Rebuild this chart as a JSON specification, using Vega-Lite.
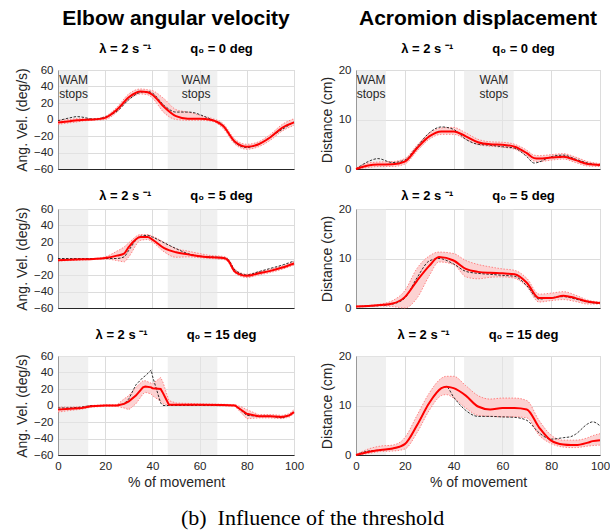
{
  "$schema": "https://vega.github.io/schema/vega-lite/v6.json",
  "background": "white",
  "padding": {"left": 14, "right": 2, "top": 7, "bottom": 2},
  "config": {
    "font": "Liberation Sans",
    "view": {"stroke": "#c8c8c8"},
    "axis": {"grid": true, "gridColor": "#dcdcdc", "domainColor": "#262626", "ticks": false, "labelPadding": 5, "labelOverlap": false, "labelFlush": false,
      "labelFont": "Liberation Sans", "labelFontSize": 11.5, "labelColor": "#262626",
      "titleFont": "Liberation Sans", "titleFontSize": 14, "titleFontWeight": "normal", "titleColor": "#262626"},
    "title": {"font": "Liberation Sans", "fontSize": 21, "fontWeight": "bold", "color": "#000000", "frame": "group",
      "subtitleFont": "Liberation Sans", "subtitleFontSize": 13, "subtitleFontWeight": "bold", "subtitleColor": "#000000",
      "subtitlePadding": 14, "offset": 4}
  },
  "title": {"text": "(b)\u2002Influence of the threshold", "orient": "bottom", "anchor": "middle", "frame": "bounds", "font": "Liberation Serif", "fontSize": 22, "fontWeight": "normal", "offset": 18},
  "columns": 2,
  "align": "each",
  "spacing": {"row": 14, "column": 14},
  "datasets": {
    "shL": [{"s": 0, "e": 12.8}, {"s": 46.5, "e": 67.5}],
    "shR": [{"s": 0, "e": 12.3}, {"s": 44.3, "e": 64.6}],
    "p1": [
      {"x": 0, "m": -3.5, "lo": -6, "hi": -1, "r": -1.5},
      {"x": 5, "m": -2, "lo": -4, "hi": 0, "r": 2},
      {"x": 8, "m": -1, "lo": -3, "hi": 1, "r": 3.5},
      {"x": 10, "m": -0.5, "lo": -2, "hi": 1, "r": 3},
      {"x": 15, "m": 0, "lo": -1, "hi": 1, "r": 0.5},
      {"x": 20, "m": 2, "lo": 0, "hi": 4, "r": 3},
      {"x": 25, "m": 12, "lo": 9, "hi": 15, "r": 10},
      {"x": 30, "m": 27, "lo": 24, "hi": 31, "r": 24},
      {"x": 35, "m": 34, "lo": 31, "hi": 37, "r": 33},
      {"x": 38, "m": 33, "lo": 30, "hi": 36, "r": 34},
      {"x": 40, "m": 30, "lo": 26, "hi": 35, "r": 32},
      {"x": 45, "m": 15, "lo": 8, "hi": 25, "r": 17},
      {"x": 50, "m": 4, "lo": 0, "hi": 12, "r": 9},
      {"x": 55, "m": 1, "lo": -1, "hi": 9, "r": 9},
      {"x": 58, "m": 1, "lo": -1, "hi": 7, "r": 8},
      {"x": 60, "m": 1, "lo": -1, "hi": 5, "r": 6},
      {"x": 65, "m": -0.5, "lo": -2, "hi": 1.5, "r": 0},
      {"x": 70, "m": -8, "lo": -11, "hi": -5, "r": -7},
      {"x": 75, "m": -27, "lo": -30, "hi": -24, "r": -28},
      {"x": 80, "m": -33, "lo": -36, "hi": -30, "r": -34},
      {"x": 85, "m": -30, "lo": -33, "hi": -27, "r": -30},
      {"x": 90, "m": -21.5, "lo": -25, "hi": -18, "r": -21},
      {"x": 95, "m": -10, "lo": -14, "hi": -6, "r": -12},
      {"x": 100, "m": -3.5, "lo": -7, "hi": 1, "r": -3}
    ],
    "p2": [
      {"x": 0, "m": 0, "lo": 0, "hi": 0.2, "r": 0},
      {"x": 5, "m": 0.7, "lo": 0.3, "hi": 1.2, "r": 1.5},
      {"x": 9, "m": 0.9, "lo": 0.5, "hi": 1.4, "r": 2.1},
      {"x": 15, "m": 0.95, "lo": 0.5, "hi": 1.5, "r": 1.3},
      {"x": 20, "m": 1.5, "lo": 1.0, "hi": 2.1, "r": 1.8},
      {"x": 25, "m": 4.2, "lo": 3.6, "hi": 4.8, "r": 4.5},
      {"x": 30, "m": 6.6, "lo": 6.0, "hi": 7.2, "r": 7.3},
      {"x": 35, "m": 7.6, "lo": 7.0, "hi": 8.3, "r": 8.5},
      {"x": 40, "m": 7.6, "lo": 7.0, "hi": 8.4, "r": 8.0},
      {"x": 45, "m": 6.6, "lo": 6.0, "hi": 7.3, "r": 6.0},
      {"x": 50, "m": 5.4, "lo": 4.9, "hi": 6.0, "r": 5.0},
      {"x": 55, "m": 5.0, "lo": 4.6, "hi": 5.5, "r": 4.8},
      {"x": 60, "m": 4.9, "lo": 4.4, "hi": 5.4, "r": 4.5},
      {"x": 65, "m": 4.5, "lo": 4.0, "hi": 5.0, "r": 4.2},
      {"x": 70, "m": 3.2, "lo": 2.7, "hi": 3.8, "r": 2.5},
      {"x": 73, "m": 2.2, "lo": 1.6, "hi": 2.8, "r": 1.2},
      {"x": 75, "m": 2.1, "lo": 1.5, "hi": 2.7, "r": 1.4},
      {"x": 80, "m": 2.3, "lo": 1.8, "hi": 2.9, "r": 2.5},
      {"x": 85, "m": 2.5, "lo": 2.0, "hi": 3.1, "r": 2.8},
      {"x": 90, "m": 1.8, "lo": 1.3, "hi": 2.4, "r": 2.0},
      {"x": 95, "m": 1.0, "lo": 0.6, "hi": 1.5, "r": 1.2},
      {"x": 100, "m": 0.8, "lo": 0.5, "hi": 1.1, "r": 0.8}
    ],
    "p3": [
      {"x": 0, "m": -2, "lo": -3, "hi": -1, "r": 0},
      {"x": 5, "m": -1.5, "lo": -2.5, "hi": -0.5, "r": 0},
      {"x": 10, "m": -1, "lo": -2, "hi": 0, "r": 0},
      {"x": 15, "m": -0.5, "lo": -1, "hi": 0, "r": 0},
      {"x": 20, "m": 0.5, "lo": -0.5, "hi": 2, "r": 0},
      {"x": 25, "m": 3.5, "lo": -2.5, "hi": 9, "r": 0},
      {"x": 28, "m": 6, "lo": -4, "hi": 14, "r": 2},
      {"x": 30, "m": 14, "lo": 2, "hi": 19, "r": 10},
      {"x": 35, "m": 26, "lo": 22, "hi": 29, "r": 27},
      {"x": 38, "m": 26, "lo": 23, "hi": 29, "r": 28},
      {"x": 40, "m": 23, "lo": 20, "hi": 27, "r": 26},
      {"x": 45, "m": 12.5, "lo": 8, "hi": 19.5, "r": 19},
      {"x": 50, "m": 7.5, "lo": 1.5, "hi": 12, "r": 12},
      {"x": 55, "m": 5, "lo": 2, "hi": 9, "r": 6},
      {"x": 60, "m": 2.6, "lo": 1, "hi": 6, "r": 3},
      {"x": 65, "m": 1.4, "lo": 0, "hi": 3.5, "r": 2},
      {"x": 70, "m": 0.5, "lo": -1, "hi": 2.5, "r": 1},
      {"x": 72, "m": -2, "lo": -4, "hi": 0, "r": -1},
      {"x": 75, "m": -16, "lo": -18, "hi": -13, "r": -14},
      {"x": 80, "m": -21, "lo": -23, "hi": -19, "r": -20},
      {"x": 85, "m": -18, "lo": -20, "hi": -16, "r": -16},
      {"x": 90, "m": -15, "lo": -17, "hi": -13, "r": -12},
      {"x": 95, "m": -11, "lo": -13, "hi": -9, "r": -8},
      {"x": 100, "m": -6, "lo": -8, "hi": -4, "r": -3}
    ],
    "p4": [
      {"x": 0, "m": 0.3, "lo": 0.2, "hi": 0.4, "r": 0.3},
      {"x": 5, "m": 0.4, "lo": 0.3, "hi": 0.5, "r": 0.4},
      {"x": 10, "m": 0.6, "lo": 0.4, "hi": 0.8, "r": 0.5},
      {"x": 15, "m": 0.9, "lo": 0.3, "hi": 1.5, "r": 0.8},
      {"x": 20, "m": 2.2, "lo": 0, "hi": 3.5, "r": 2},
      {"x": 25, "m": 5.5, "lo": 2, "hi": 8, "r": 6.1},
      {"x": 30, "m": 8.5, "lo": 6.5, "hi": 10.5, "r": 9.5},
      {"x": 34, "m": 10.3, "lo": 9.3, "hi": 11.3, "r": 10.0},
      {"x": 40, "m": 9.6, "lo": 8.8, "hi": 11, "r": 8.9},
      {"x": 45, "m": 7.9, "lo": 6.3, "hi": 9.6, "r": 7.4},
      {"x": 50, "m": 7.3, "lo": 5.9, "hi": 8.8, "r": 7.0},
      {"x": 55, "m": 7.1, "lo": 6.2, "hi": 8.3, "r": 6.8},
      {"x": 60, "m": 7.0, "lo": 6.3, "hi": 7.9, "r": 6.6},
      {"x": 65, "m": 6.8, "lo": 6.0, "hi": 7.6, "r": 6.4},
      {"x": 70, "m": 5.1, "lo": 4.3, "hi": 6, "r": 4.5},
      {"x": 75, "m": 2.0, "lo": 1.2, "hi": 2.8, "r": 1.8},
      {"x": 80, "m": 2.0, "lo": 1.5, "hi": 3.0, "r": 2.1},
      {"x": 85, "m": 2.5, "lo": 1.7, "hi": 3.3, "r": 2.3},
      {"x": 90, "m": 2.0, "lo": 1.3, "hi": 2.6, "r": 1.8},
      {"x": 95, "m": 1.3, "lo": 0.8, "hi": 1.6, "r": 1.2},
      {"x": 100, "m": 1.0, "lo": 0.8, "hi": 1.2, "r": 0.9}
    ],
    "p5": [
      {"x": 0, "m": -5, "lo": -8, "hi": -2, "r": -3},
      {"x": 5, "m": -4, "lo": -6, "hi": -2, "r": -3},
      {"x": 10, "m": -3, "lo": -4.5, "hi": -1.5, "r": -2},
      {"x": 14, "m": -1, "lo": -2, "hi": 0, "r": 0},
      {"x": 20, "m": 0, "lo": -1, "hi": 1, "r": 0},
      {"x": 25, "m": 0, "lo": -1, "hi": 1, "r": 0},
      {"x": 28, "m": 2, "lo": -3, "hi": 8, "r": 2},
      {"x": 30, "m": 5, "lo": -5, "hi": 12, "r": 8},
      {"x": 33, "m": 12, "lo": 2, "hi": 22, "r": 25},
      {"x": 36, "m": 22, "lo": 14, "hi": 30, "r": 34},
      {"x": 37, "m": 23, "lo": 16, "hi": 30, "r": 36},
      {"x": 39.5, "m": 22, "lo": 14, "hi": 27, "r": 43},
      {"x": 40, "m": 21, "lo": 12, "hi": 26, "r": 36},
      {"x": 43.5, "m": 20, "lo": 5, "hi": 34, "r": 3},
      {"x": 44.5, "m": 15, "lo": 2, "hi": 28, "r": 0},
      {"x": 47, "m": 1, "lo": 0, "hi": 6, "r": 0},
      {"x": 50, "m": 1, "lo": 0, "hi": 3, "r": 0},
      {"x": 60, "m": 1, "lo": 0, "hi": 2, "r": 0},
      {"x": 70, "m": 0.5, "lo": -0.5, "hi": 1.5, "r": 0},
      {"x": 75, "m": 0, "lo": -1, "hi": 1, "r": 0},
      {"x": 78, "m": -6, "lo": -10, "hi": -2, "r": -7},
      {"x": 80, "m": -10, "lo": -16, "hi": -5, "r": -12},
      {"x": 85, "m": -13, "lo": -15, "hi": -11, "r": -13},
      {"x": 90, "m": -13, "lo": -15, "hi": -11, "r": -13},
      {"x": 95, "m": -14, "lo": -16, "hi": -12, "r": -15},
      {"x": 98, "m": -12, "lo": -14, "hi": -10, "r": -12},
      {"x": 100, "m": -8, "lo": -10, "hi": -5, "r": -8}
    ],
    "p6": [
      {"x": 0, "m": 0, "lo": 0, "hi": 0.1, "r": 0},
      {"x": 5, "m": 0.6, "lo": 0.3, "hi": 1.2, "r": 0.8},
      {"x": 10, "m": 1.0, "lo": 0.7, "hi": 1.8, "r": 1.0},
      {"x": 15, "m": 1.3, "lo": 0.8, "hi": 2.0, "r": 1.3},
      {"x": 20, "m": 2.2, "lo": 1.2, "hi": 3.5, "r": 2.2},
      {"x": 25, "m": 6, "lo": 4.5, "hi": 8, "r": 6},
      {"x": 30, "m": 10.5, "lo": 9, "hi": 12.5, "r": 10.5},
      {"x": 35, "m": 13.5, "lo": 12, "hi": 15.5, "r": 13.5},
      {"x": 37, "m": 13.8, "lo": 12.2, "hi": 15.9, "r": 13.8},
      {"x": 40, "m": 13.5, "lo": 11.5, "hi": 15.9, "r": 11.7},
      {"x": 45, "m": 12, "lo": 9.5, "hi": 14, "r": 9.0},
      {"x": 50, "m": 9.8, "lo": 8, "hi": 12, "r": 7.8},
      {"x": 55, "m": 9.2, "lo": 7.8, "hi": 11.3, "r": 7.8},
      {"x": 60, "m": 9.5, "lo": 7.7, "hi": 11.5, "r": 7.7},
      {"x": 65, "m": 9.5, "lo": 7.7, "hi": 11.5, "r": 7.6},
      {"x": 70, "m": 9.2, "lo": 7.5, "hi": 11, "r": 7},
      {"x": 75, "m": 5.6, "lo": 4, "hi": 7, "r": 4.5},
      {"x": 80, "m": 2.9, "lo": 2.3, "hi": 4, "r": 3.2},
      {"x": 85, "m": 2.1, "lo": 1.6, "hi": 3, "r": 3.5},
      {"x": 88, "m": 2.0, "lo": 1.5, "hi": 3, "r": 3.7},
      {"x": 90, "m": 2.0, "lo": 1.5, "hi": 3, "r": 4.2},
      {"x": 95, "m": 2.5, "lo": 1.8, "hi": 3.5, "r": 6.3},
      {"x": 97, "m": 2.8, "lo": 1.9, "hi": 3.9, "r": 6.7},
      {"x": 100, "m": 3.0, "lo": 2.0, "hi": 4.3, "r": 5.9}
    ]
  },
  "concat": [
    {
      "width": 236, "height": 99,
      "title": {"text": "Elbow angular velocity", "subtitle": "λ = 2 s ⁻¹\u2003\u2003\u2003q₀ = 0 deg", "offset": 8},
      "layer": [
        {"data": {"name": "shL"}, "mark": {"type": "rect", "color": "#e6e6e6", "opacity": 0.6},
         "encoding": {"x": {"field": "s", "type": "quantitative", "scale": {"domain": [0, 100], "nice": false}, "axis": {"values": [0, 20, 40, 60, 80, 100], "labels": false, "title": null}}, "x2": {"field": "e"}}},
        {"data": {"name": "p1"}, "mark": {"type": "area", "color": "#fcd2d2", "interpolate": "monotone"},
         "encoding": {"x": {"field": "x", "type": "quantitative", "axis": {"values": [0, 20, 40, 60, 80, 100], "labels": false, "title": null}},
           "y": {"field": "lo", "type": "quantitative", "scale": {"domain": [-60, 60], "nice": false, "zero": false}, "axis": {"values": [-60, -40, -20, 0, 20, 40, 60], "tickCount": 7, "labelOverlap": false, "title": "Ang. Vel. (deg/s)"}}, "y2": {"field": "hi"}}},
        {"data": {"name": "p1"}, "mark": {"type": "line", "color": "#ff6a6a", "strokeWidth": 0.8, "strokeDash": [1.5, 1.5], "interpolate": "monotone"},
         "encoding": {"x": {"field": "x", "type": "quantitative", "title": null}, "y": {"field": "lo", "type": "quantitative", "axis": {"values": [-60, -40, -20, 0, 20, 40, 60], "tickCount": 7, "labelOverlap": false, "title": "Ang. Vel. (deg/s)"}}}},
        {"data": {"name": "p1"}, "mark": {"type": "line", "color": "#ff6a6a", "strokeWidth": 0.8, "strokeDash": [1.5, 1.5], "interpolate": "monotone"},
         "encoding": {"x": {"field": "x", "type": "quantitative", "title": null}, "y": {"field": "hi", "type": "quantitative", "axis": {"values": [-60, -40, -20, 0, 20, 40, 60], "tickCount": 7, "labelOverlap": false, "title": "Ang. Vel. (deg/s)"}}}},
        {"data": {"name": "p1"}, "mark": {"type": "line", "color": "#1a1a1a", "strokeWidth": 0.9, "strokeDash": [2.5, 1.5], "interpolate": "monotone"},
         "encoding": {"x": {"field": "x", "type": "quantitative", "title": null}, "y": {"field": "r", "type": "quantitative", "axis": {"values": [-60, -40, -20, 0, 20, 40, 60], "tickCount": 7, "labelOverlap": false, "title": "Ang. Vel. (deg/s)"}}}},
        {"data": {"name": "p1"}, "mark": {"type": "line", "color": "#ff0000", "strokeWidth": 2, "interpolate": "monotone"},
         "encoding": {"x": {"field": "x", "type": "quantitative", "title": null}, "y": {"field": "m", "type": "quantitative", "axis": {"values": [-60, -40, -20, 0, 20, 40, 60], "tickCount": 7, "labelOverlap": false, "title": "Ang. Vel. (deg/s)"}}}},
        {"data": {"values": [{}]}, "mark": {"type": "text", "text": ["WAM", "stops"], "align": "center", "baseline": "top", "fontSize": 12, "lineHeight": 14, "color": "#262626"},
         "encoding": {"x": {"datum": 6.6, "type": "quantitative"}, "y": {"datum": 53.6, "type": "quantitative", "axis": {"values": [-60, -40, -20, 0, 20, 40, 60], "tickCount": 7, "labelOverlap": false, "title": "Ang. Vel. (deg/s)"}}}},
        {"data": {"values": [{}]}, "mark": {"type": "text", "text": ["WAM", "stops"], "align": "center", "baseline": "top", "fontSize": 12, "lineHeight": 14, "color": "#262626"},
         "encoding": {"x": {"datum": 58.5, "type": "quantitative"}, "y": {"datum": 53.6, "type": "quantitative", "axis": {"values": [-60, -40, -20, 0, 20, 40, 60], "tickCount": 7, "labelOverlap": false, "title": "Ang. Vel. (deg/s)"}}}}
      ]
    },
    {
      "width": 244, "height": 99,
      "title": {"text": "Acromion displacement", "subtitle": "λ = 2 s ⁻¹\u2003\u2003\u2003q₀ = 0 deg", "offset": 8},
      "layer": [
        {"data": {"name": "shR"}, "mark": {"type": "rect", "color": "#e6e6e6", "opacity": 0.6},
         "encoding": {"x": {"field": "s", "type": "quantitative", "scale": {"domain": [0, 100], "nice": false}, "axis": {"values": [0, 20, 40, 60, 80, 100], "labels": false, "title": null}}, "x2": {"field": "e"}}},
        {"data": {"name": "p2"}, "mark": {"type": "area", "color": "#fcd2d2", "interpolate": "monotone"},
         "encoding": {"x": {"field": "x", "type": "quantitative", "axis": {"values": [0, 20, 40, 60, 80, 100], "labels": false, "title": null}},
           "y": {"field": "lo", "type": "quantitative", "scale": {"domain": [0, 20], "nice": false}, "axis": {"values": [0, 5, 10, 15, 20], "title": "Distance (cm)"}}, "y2": {"field": "hi"}}},
        {"data": {"name": "p2"}, "mark": {"type": "line", "color": "#ff6a6a", "strokeWidth": 0.8, "strokeDash": [1.5, 1.5], "interpolate": "monotone"},
         "encoding": {"x": {"field": "x", "type": "quantitative", "title": null}, "y": {"field": "lo", "type": "quantitative", "title": "Distance (cm)"}}},
        {"data": {"name": "p2"}, "mark": {"type": "line", "color": "#ff6a6a", "strokeWidth": 0.8, "strokeDash": [1.5, 1.5], "interpolate": "monotone"},
         "encoding": {"x": {"field": "x", "type": "quantitative", "title": null}, "y": {"field": "hi", "type": "quantitative", "title": "Distance (cm)"}}},
        {"data": {"name": "p2"}, "mark": {"type": "line", "color": "#1a1a1a", "strokeWidth": 0.9, "strokeDash": [2.5, 1.5], "interpolate": "monotone"},
         "encoding": {"x": {"field": "x", "type": "quantitative", "title": null}, "y": {"field": "r", "type": "quantitative", "title": "Distance (cm)"}}},
        {"data": {"name": "p2"}, "mark": {"type": "line", "color": "#ff0000", "strokeWidth": 2, "interpolate": "monotone"},
         "encoding": {"x": {"field": "x", "type": "quantitative", "title": null}, "y": {"field": "m", "type": "quantitative", "title": "Distance (cm)"}}},
        {"data": {"values": [{}]}, "mark": {"type": "text", "text": ["WAM", "stops"], "align": "center", "baseline": "top", "fontSize": 12, "lineHeight": 14, "color": "#262626"},
         "encoding": {"x": {"datum": 6.2, "type": "quantitative"}, "y": {"datum": 18.9, "type": "quantitative"}}},
        {"data": {"values": [{}]}, "mark": {"type": "text", "text": ["WAM", "stops"], "align": "center", "baseline": "top", "fontSize": 12, "lineHeight": 14, "color": "#262626"},
         "encoding": {"x": {"datum": 56.5, "type": "quantitative"}, "y": {"datum": 18.9, "type": "quantitative"}}}
      ]
    },
    {
      "width": 236, "height": 99,
      "title": {"text": "λ = 2 s ⁻¹\u2003\u2003\u2003q₀ = 5 deg", "fontSize": 13, "offset": 0},
      "layer": [
        {"data": {"name": "shL"}, "mark": {"type": "rect", "color": "#e6e6e6", "opacity": 0.6},
         "encoding": {"x": {"field": "s", "type": "quantitative", "scale": {"domain": [0, 100], "nice": false}, "axis": {"values": [0, 20, 40, 60, 80, 100], "labels": false, "title": null}}, "x2": {"field": "e"}}},
        {"data": {"name": "p3"}, "mark": {"type": "area", "color": "#fcd2d2", "interpolate": "monotone"},
         "encoding": {"x": {"field": "x", "type": "quantitative", "axis": {"values": [0, 20, 40, 60, 80, 100], "labels": false, "title": null}},
           "y": {"field": "lo", "type": "quantitative", "scale": {"domain": [-60, 60], "nice": false, "zero": false}, "axis": {"values": [-60, -40, -20, 0, 20, 40, 60], "tickCount": 7, "labelOverlap": false, "title": "Ang. Vel. (deg/s)"}}, "y2": {"field": "hi"}}},
        {"data": {"name": "p3"}, "mark": {"type": "line", "color": "#ff6a6a", "strokeWidth": 0.8, "strokeDash": [1.5, 1.5], "interpolate": "monotone"},
         "encoding": {"x": {"field": "x", "type": "quantitative", "title": null}, "y": {"field": "lo", "type": "quantitative", "axis": {"values": [-60, -40, -20, 0, 20, 40, 60], "tickCount": 7, "labelOverlap": false, "title": "Ang. Vel. (deg/s)"}}}},
        {"data": {"name": "p3"}, "mark": {"type": "line", "color": "#ff6a6a", "strokeWidth": 0.8, "strokeDash": [1.5, 1.5], "interpolate": "monotone"},
         "encoding": {"x": {"field": "x", "type": "quantitative", "title": null}, "y": {"field": "hi", "type": "quantitative", "axis": {"values": [-60, -40, -20, 0, 20, 40, 60], "tickCount": 7, "labelOverlap": false, "title": "Ang. Vel. (deg/s)"}}}},
        {"data": {"name": "p3"}, "mark": {"type": "line", "color": "#1a1a1a", "strokeWidth": 0.9, "strokeDash": [2.5, 1.5], "interpolate": "monotone"},
         "encoding": {"x": {"field": "x", "type": "quantitative", "title": null}, "y": {"field": "r", "type": "quantitative", "axis": {"values": [-60, -40, -20, 0, 20, 40, 60], "tickCount": 7, "labelOverlap": false, "title": "Ang. Vel. (deg/s)"}}}},
        {"data": {"name": "p3"}, "mark": {"type": "line", "color": "#ff0000", "strokeWidth": 2, "interpolate": "monotone"},
         "encoding": {"x": {"field": "x", "type": "quantitative", "title": null}, "y": {"field": "m", "type": "quantitative", "axis": {"values": [-60, -40, -20, 0, 20, 40, 60], "tickCount": 7, "labelOverlap": false, "title": "Ang. Vel. (deg/s)"}}}}
      ]
    },
    {
      "width": 244, "height": 99,
      "title": {"text": "λ = 2 s ⁻¹\u2003\u2003\u2003q₀ = 5 deg", "fontSize": 13, "offset": 0},
      "layer": [
        {"data": {"name": "shR"}, "mark": {"type": "rect", "color": "#e6e6e6", "opacity": 0.6},
         "encoding": {"x": {"field": "s", "type": "quantitative", "scale": {"domain": [0, 100], "nice": false}, "axis": {"values": [0, 20, 40, 60, 80, 100], "labels": false, "title": null}}, "x2": {"field": "e"}}},
        {"data": {"name": "p4"}, "mark": {"type": "area", "color": "#fcd2d2", "interpolate": "monotone"},
         "encoding": {"x": {"field": "x", "type": "quantitative", "axis": {"values": [0, 20, 40, 60, 80, 100], "labels": false, "title": null}},
           "y": {"field": "lo", "type": "quantitative", "scale": {"domain": [0, 20], "nice": false}, "axis": {"values": [0, 5, 10, 15, 20], "title": "Distance (cm)"}}, "y2": {"field": "hi"}}},
        {"data": {"name": "p4"}, "mark": {"type": "line", "color": "#ff6a6a", "strokeWidth": 0.8, "strokeDash": [1.5, 1.5], "interpolate": "monotone"},
         "encoding": {"x": {"field": "x", "type": "quantitative", "title": null}, "y": {"field": "lo", "type": "quantitative", "title": "Distance (cm)"}}},
        {"data": {"name": "p4"}, "mark": {"type": "line", "color": "#ff6a6a", "strokeWidth": 0.8, "strokeDash": [1.5, 1.5], "interpolate": "monotone"},
         "encoding": {"x": {"field": "x", "type": "quantitative", "title": null}, "y": {"field": "hi", "type": "quantitative", "title": "Distance (cm)"}}},
        {"data": {"name": "p4"}, "mark": {"type": "line", "color": "#1a1a1a", "strokeWidth": 0.9, "strokeDash": [2.5, 1.5], "interpolate": "monotone"},
         "encoding": {"x": {"field": "x", "type": "quantitative", "title": null}, "y": {"field": "r", "type": "quantitative", "title": "Distance (cm)"}}},
        {"data": {"name": "p4"}, "mark": {"type": "line", "color": "#ff0000", "strokeWidth": 2, "interpolate": "monotone"},
         "encoding": {"x": {"field": "x", "type": "quantitative", "title": null}, "y": {"field": "m", "type": "quantitative", "title": "Distance (cm)"}}}
      ]
    },
    {
      "width": 236, "height": 99,
      "title": {"text": "λ = 2 s ⁻¹\u2003\u2003\u2003q₀ = 15 deg", "fontSize": 13, "offset": 8},
      "layer": [
        {"data": {"name": "shL"}, "mark": {"type": "rect", "color": "#e6e6e6", "opacity": 0.6},
         "encoding": {"x": {"field": "s", "type": "quantitative", "scale": {"domain": [0, 100], "nice": false}, "axis": {"values": [0, 20, 40, 60, 80, 100], "title": "% of movement"}}, "x2": {"field": "e"}}},
        {"data": {"name": "p5"}, "mark": {"type": "area", "color": "#fcd2d2", "interpolate": "linear"},
         "encoding": {"x": {"field": "x", "type": "quantitative", "axis": {"values": [0, 20, 40, 60, 80, 100], "title": "% of movement"}},
           "y": {"field": "lo", "type": "quantitative", "scale": {"domain": [-60, 60], "nice": false, "zero": false}, "axis": {"values": [-60, -40, -20, 0, 20, 40, 60], "tickCount": 7, "labelOverlap": false, "title": "Ang. Vel. (deg/s)"}}, "y2": {"field": "hi"}}},
        {"data": {"name": "p5"}, "mark": {"type": "line", "color": "#ff6a6a", "strokeWidth": 0.8, "strokeDash": [1.5, 1.5], "interpolate": "linear"},
         "encoding": {"x": {"field": "x", "type": "quantitative", "title": "% of movement"}, "y": {"field": "lo", "type": "quantitative", "axis": {"values": [-60, -40, -20, 0, 20, 40, 60], "tickCount": 7, "labelOverlap": false, "title": "Ang. Vel. (deg/s)"}}}},
        {"data": {"name": "p5"}, "mark": {"type": "line", "color": "#ff6a6a", "strokeWidth": 0.8, "strokeDash": [1.5, 1.5], "interpolate": "linear"},
         "encoding": {"x": {"field": "x", "type": "quantitative", "title": "% of movement"}, "y": {"field": "hi", "type": "quantitative", "axis": {"values": [-60, -40, -20, 0, 20, 40, 60], "tickCount": 7, "labelOverlap": false, "title": "Ang. Vel. (deg/s)"}}}},
        {"data": {"name": "p5"}, "mark": {"type": "line", "color": "#1a1a1a", "strokeWidth": 0.9, "strokeDash": [2.5, 1.5], "interpolate": "linear"},
         "encoding": {"x": {"field": "x", "type": "quantitative", "title": "% of movement"}, "y": {"field": "r", "type": "quantitative", "axis": {"values": [-60, -40, -20, 0, 20, 40, 60], "tickCount": 7, "labelOverlap": false, "title": "Ang. Vel. (deg/s)"}}}},
        {"data": {"name": "p5"}, "mark": {"type": "line", "color": "#ff0000", "strokeWidth": 2, "interpolate": "linear"},
         "encoding": {"x": {"field": "x", "type": "quantitative", "title": "% of movement"}, "y": {"field": "m", "type": "quantitative", "axis": {"values": [-60, -40, -20, 0, 20, 40, 60], "tickCount": 7, "labelOverlap": false, "title": "Ang. Vel. (deg/s)"}}}}
      ]
    },
    {
      "width": 244, "height": 99,
      "title": {"text": "λ = 2 s ⁻¹\u2003\u2003\u2003q₀ = 15 deg", "fontSize": 13, "offset": 8},
      "layer": [
        {"data": {"name": "shR"}, "mark": {"type": "rect", "color": "#e6e6e6", "opacity": 0.6},
         "encoding": {"x": {"field": "s", "type": "quantitative", "scale": {"domain": [0, 100], "nice": false}, "axis": {"values": [0, 20, 40, 60, 80, 100], "title": "% of movement"}}, "x2": {"field": "e"}}},
        {"data": {"name": "p6"}, "mark": {"type": "area", "color": "#fcd2d2", "interpolate": "monotone"},
         "encoding": {"x": {"field": "x", "type": "quantitative", "axis": {"values": [0, 20, 40, 60, 80, 100], "title": "% of movement"}},
           "y": {"field": "lo", "type": "quantitative", "scale": {"domain": [0, 20], "nice": false}, "axis": {"values": [0, 5, 10, 15, 20], "title": "Distance (cm)"}}, "y2": {"field": "hi"}}},
        {"data": {"name": "p6"}, "mark": {"type": "line", "color": "#ff6a6a", "strokeWidth": 0.8, "strokeDash": [1.5, 1.5], "interpolate": "monotone"},
         "encoding": {"x": {"field": "x", "type": "quantitative", "title": "% of movement"}, "y": {"field": "lo", "type": "quantitative", "title": "Distance (cm)"}}},
        {"data": {"name": "p6"}, "mark": {"type": "line", "color": "#ff6a6a", "strokeWidth": 0.8, "strokeDash": [1.5, 1.5], "interpolate": "monotone"},
         "encoding": {"x": {"field": "x", "type": "quantitative", "title": "% of movement"}, "y": {"field": "hi", "type": "quantitative", "title": "Distance (cm)"}}},
        {"data": {"name": "p6"}, "mark": {"type": "line", "color": "#1a1a1a", "strokeWidth": 0.9, "strokeDash": [2.5, 1.5], "interpolate": "monotone"},
         "encoding": {"x": {"field": "x", "type": "quantitative", "title": "% of movement"}, "y": {"field": "r", "type": "quantitative", "title": "Distance (cm)"}}},
        {"data": {"name": "p6"}, "mark": {"type": "line", "color": "#ff0000", "strokeWidth": 2, "interpolate": "monotone"},
         "encoding": {"x": {"field": "x", "type": "quantitative", "title": "% of movement"}, "y": {"field": "m", "type": "quantitative", "title": "Distance (cm)"}}}
      ]
    }
  ]
}
